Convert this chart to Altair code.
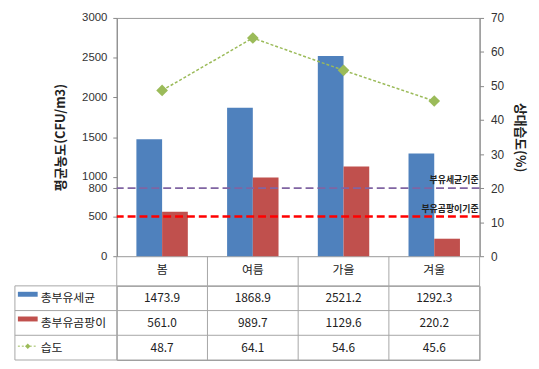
import altair as alt
import pandas as pd

FONT = "Noto Sans CJK KR"
NUM_FONT = "Liberation Sans"

# ---- data ----
seasons = ["봄", "여름", "가을", "겨울"]
series_names = ["총부유세균", "총부유곰팡이"]
bacteria = [1473.9, 1868.9, 2521.2, 1292.3]
fungi = [561.0, 989.7, 1129.6, 220.2]
humidity_name = "습도"
humidity = [48.7, 64.1, 54.6, 45.6]

left_ticks = [0, 500, 1000, 1500, 2000, 2500, 3000]
right_ticks = [0, 10, 20, 30, 40, 50, 60, 70]
std_labels = ["부유세균기준", "부유곰팡이기준"]
std_levels = [857.1, 500]          # where the dashed reference lines sit (left-axis units)
bacteria_std_tick_label = "800"

bar_colors = ["#4F81BD", "#C0504D"]
line_color = "#9BBB59"
std_colors = ["#8064A2", "#FF0000"]

W, H = 367, 241
ROW_H = 25

# ---- frames ----
bars_df = pd.DataFrame(
    [{"season": s, "series": series_names[0], "value": v} for s, v in zip(seasons, bacteria)]
    + [{"season": s, "series": series_names[1], "value": v} for s, v in zip(seasons, fungi)]
)
hum_df = pd.DataFrame({"season": seasons, "humidity": humidity})
std_df = pd.DataFrame({"label": std_labels, "value": std_levels, "color": std_colors})

x_enc = alt.X(
    "season:N", sort=seasons,
    scale=alt.Scale(paddingInner=0, paddingOuter=0),
    axis=alt.Axis(title=None, labelAngle=0, ticks=False, domain=False, labelPadding=8,
                  labelFontSize=12, labelColor="#222", labelFont=FONT),
)

left_axis = alt.Axis(
    values=left_ticks[:1] + [500, std_levels[0]] + left_ticks[2:],
    format="d",
    labelExpr=f"datum.value > 850 && datum.value < 860 ? '{bacteria_std_tick_label}' : datum.label",
    labelOverlap=False, grid=False, tickSize=4, tickColor="#888", domainColor="#888",
    labelFontSize=11.5, labelColor="#333", labelFont=NUM_FONT, labelPadding=6,
    title="평균농도(CFU/m3)", titleFont=FONT, titleFontSize=13, titleFontWeight="bold",
    titleColor="#222", titlePadding=14,
)
left_y = alt.Y("value:Q", scale=alt.Scale(domain=[0, 3000], nice=False), axis=left_axis)

bars = alt.Chart(bars_df).mark_bar().encode(
    x=x_enc,
    xOffset=alt.XOffset("series:N", sort=series_names,
                        scale=alt.Scale(paddingInner=0, paddingOuter=0.764)),
    y=left_y,
    color=alt.Color("series:N", scale=alt.Scale(domain=series_names, range=bar_colors), legend=None),
)

rules = []
for i, (dash, sw) in enumerate([([8, 4], 2), ([8, 4], 2.5)]):
    sub = std_df.iloc[[i]]
    rules.append(
        alt.Chart(sub).mark_rule(strokeDash=dash, strokeWidth=sw, color=std_colors[i]).encode(y=left_y)
    )
std_text = alt.Chart(std_df).mark_text(
    align="right", baseline="alphabetic", dx=-1, dy=-5, fontSize=9, fontWeight="bold",
    font=FONT, color="#222",
).encode(x=alt.value("width"), y=left_y, text="label:N")

left_layer = alt.layer(bars, *rules, std_text)

right_y = alt.Y(
    "humidity:Q", scale=alt.Scale(domain=[0, 70], nice=False),
    axis=alt.Axis(orient="right", values=right_ticks, grid=False, tickSize=4, tickColor="#888",
                  domainColor="#888", labelFontSize=12, labelColor="#333", labelFont=NUM_FONT,
                  labelPadding=7, title="상대습도(%)", titleAngle=90, titleFont=FONT,
                  titleFontSize=13, titleFontWeight="bold", titleColor="#222", titlePadding=9),
)
hum_line = alt.Chart(hum_df).mark_line(color=line_color, strokeDash=[3, 2], strokeWidth=1.5).encode(
    x=x_enc, y=right_y)
hum_pts = alt.Chart(hum_df).mark_point(shape="diamond", filled=True, size=140, color=line_color,
                                       opacity=1).encode(x=x_enc, y=right_y)
right_layer = alt.layer(hum_line, hum_pts)

top = alt.layer(left_layer, right_layer).resolve_scale(y="independent").properties(width=W, height=H)

# ---- data table ----
row_names = series_names + [humidity_name]
table_rows = []
for i, s in enumerate(seasons):
    table_rows.append({"season": s, "row": series_names[0], "txt": f"{bacteria[i]:.1f}"})
    table_rows.append({"season": s, "row": series_names[1], "txt": f"{fungi[i]:.1f}"})
    table_rows.append({"season": s, "row": humidity_name, "txt": f"{humidity[i]:.1f}"})
table_df = pd.DataFrame(table_rows)
rows_df = pd.DataFrame({"row": row_names})
seasons_df = pd.DataFrame({"season": seasons})
one_df = pd.DataFrame({"k": [0]})

tx = alt.X("season:N", sort=seasons, scale=alt.Scale(paddingInner=0, paddingOuter=0), axis=None)
ty = alt.Y("row:N", sort=row_names, scale=alt.Scale(paddingInner=0, paddingOuter=0), axis=None)
GRID = "#A6A6A6"
LEFT = -103

cells = alt.Chart(table_df).mark_text(fontSize=12, font=FONT, color="#222").encode(
    x=tx, y=ty, text="txt:N")
row_labels = alt.Chart(rows_df).mark_text(align="left", fontSize=12, font=FONT, color="#222").encode(
    x=alt.value(LEFT + 26), y=ty, text="row:N")
swatches = alt.Chart(rows_df).transform_filter(
    alt.FieldOneOfPredicate(field="row", oneOf=series_names)
).mark_point(shape="M-1,-0.25L1,-0.25L1,0.25L-1,0.25Z", size=400, filled=True, opacity=1,
             strokeWidth=0).encode(
    x=alt.value(LEFT + 13), y=ty, yOffset=alt.value(ROW_H / 2 - 4),
    color=alt.Color("row:N", scale=alt.Scale(domain=series_names, range=bar_colors), legend=None))
hum_leg_line = alt.Chart(rows_df).transform_filter(
    alt.datum.row == humidity_name
).mark_rule(color=line_color, strokeDash=[2, 2], strokeWidth=1).encode(
    x=alt.value(LEFT + 3), x2=alt.value(LEFT + 23), y=ty, yOffset=alt.value(ROW_H / 2 - 1.5))
hum_leg_pt = alt.Chart(rows_df).transform_filter(
    alt.datum.row == humidity_name
).mark_point(shape="diamond", filled=True, size=30, color=line_color, opacity=1).encode(
    x=alt.value(LEFT + 13), y=ty, yOffset=alt.value(ROW_H / 2 - 1.5))

vlines = alt.Chart(seasons_df).mark_rule(color=GRID, strokeWidth=1).encode(
    x=alt.X("season:N", sort=seasons, scale=alt.Scale(paddingInner=0, paddingOuter=0), axis=None,
            bandPosition=0),
    y=alt.value(-30), y2=alt.value("height"))
vright = alt.Chart(one_df).mark_rule(color=GRID, strokeWidth=1).encode(
    x=alt.value("width"), y=alt.value(-30), y2=alt.value("height"))
hlines = alt.Chart(rows_df).mark_rule(color=GRID, strokeWidth=1).encode(
    y=alt.Y("row:N", sort=row_names, scale=alt.Scale(paddingInner=0, paddingOuter=0), axis=None,
            bandPosition=0),
    x=alt.value(LEFT), x2=alt.value("width"))
hbottom = alt.Chart(one_df).mark_rule(color=GRID, strokeWidth=1).encode(
    y=alt.value("height"), x=alt.value(LEFT), x2=alt.value("width"))
vleft = alt.Chart(one_df).mark_rule(color=GRID, strokeWidth=1).encode(
    x=alt.value(LEFT), y=alt.value(0), y2=alt.value("height"))

table = alt.layer(vlines, vright, hlines, hbottom, vleft, cells, row_labels, swatches,
                  hum_leg_line, hum_leg_pt).properties(width=W, height=ROW_H * 3)

chart = alt.vconcat(top, table, spacing=30, bounds="flush").resolve_scale(
    x="independent", y="independent", color="independent"
).properties(
    padding={"left": 6, "top": 1, "right": 5, "bottom": 2},
    background="white",
).configure_view(stroke="#999", strokeWidth=1)

chart.save("out.html", embed_options={"renderer": "svg", "actions": False})
